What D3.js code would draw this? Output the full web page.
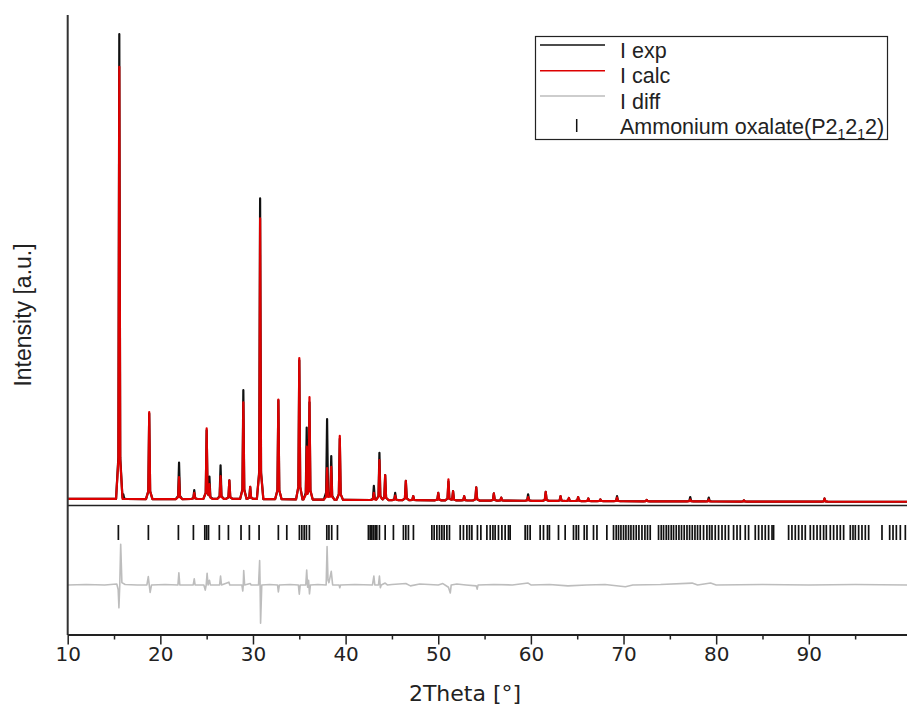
<!DOCTYPE html>
<html><head><meta charset="utf-8">
<script src="https://cdn.jsdelivr.net/npm/d3@7"></script>
<style>html,body{margin:0;padding:0;background:#fff;}svg{display:block;}</style>
</head><body>
<svg id="chart" width="907" height="708"></svg>
<script>
// ---------- data ----------
const xTicks = [10, 20, 30, 40, 50, 60, 70, 80, 90];
const xMinorTicks = [15, 25, 35, 45, 55, 65, 75, 85, 95];

// background level (a.u.)
const bgX = [10, 15, 20, 25, 30, 35, 40, 45, 50, 55, 60, 70, 80, 90, 100.6];
const bgVal = [1.3, 1.3, 1.25, 1.3, 1.3, 1.2, 1.1, 1.05, 1.0, 0.95, 0.9, 0.8, 0.75, 0.72, 0.7];

// reflections seen in the measured / calculated patterns
const peakPos  = [15.57, 16.0, 18.8, 22.02, 23.66, 25.0, 25.3, 26.5, 27.45, 28.96, 29.7, 30.77, 32.74, 35.0, 35.8, 36.1, 38.0, 38.45, 39.37, 43.05, 43.65, 44.27, 45.35, 46.5, 47.3, 50.0, 51.1, 51.6, 52.8, 54.1, 56.0, 56.8, 59.7, 61.6, 63.2, 64.1, 65.1, 66.2, 67.5, 69.3, 72.5, 77.2, 79.2, 83.0, 91.7];
const expPeak  = [100.9, 2.3, 19.6, 9.1, 3.2, 16.0, 6.1, 8.5, 5.3, 24.6, 3.9, 65.7, 22.4, 31.0, 16.6, 22.0, 18.4, 10.5, 14.2, 4.1, 11.2, 6.4, 2.6, 5.2, 1.9, 2.6, 5.0, 3.0, 1.9, 3.8, 2.5, 1.6, 2.3, 2.8, 1.9, 1.5, 1.7, 1.4, 1.2, 1.9, 1.1, 1.7, 1.6, 1.0, 1.4];
const calcPeak = [93.9, 1.3, 19.9, 6.0, 2.6, 16.4, 4.5, 6.2, 5.3, 22.0, 3.9, 61.4, 22.6, 31.5, 12.5, 23.1, 7.9, 8.2, 14.8, 2.6, 9.6, 6.4, 2.0, 5.2, 1.9, 2.6, 5.5, 3.0, 1.9, 3.8, 2.5, 1.6, 1.7, 2.8, 1.9, 1.5, 1.7, 1.4, 1.2, 1.6, 1.1, 1.2, 1.2, 1.0, 1.4];

// difference curve (2θ, Iexp - Icalc)
const diffX = [10, 12, 14, 15.3, 15.45, 15.53, 15.62, 15.72, 15.85, 16.2, 17.5, 18.55, 18.7, 18.8, 18.9, 19.05, 20.5, 21.9, 22.0, 22.1, 23.55, 23.66, 23.75, 24.7, 24.85, 24.95, 25.05, 25.15, 25.3, 25.4, 26.4, 26.5, 26.6, 27.4, 27.5, 28.8, 28.9, 28.95, 29.0, 29.1, 29.7, 29.8, 30.6, 30.72, 30.77, 30.82, 30.95, 31.8, 32.65, 32.74, 32.85, 34.0, 34.9, 35.0, 35.1, 35.7, 35.8, 35.9, 36.0, 36.1, 36.2, 37.0, 37.9, 38.0, 38.1, 38.2, 38.45, 38.6, 39.3, 39.37, 39.45, 41.0, 42.9, 43.05, 43.15, 43.55, 43.65, 43.75, 43.85, 44.27, 44.5, 45.0, 46.5, 47.0, 48.0, 50.0, 50.5, 51.1, 51.3, 51.4, 52.0, 53.0, 54.1, 54.2, 54.3, 56.0, 58.0, 59.7, 60.0, 62.0, 64.0, 66.0, 68.0, 70.2, 71.0, 74.0, 77.4, 78.0, 79.4, 80.0, 85.0, 90.0, 95.0, 100.6];
const diffV = [0, 0.1, 0, 0.2, -1.0, -4.9, 0, 8.7, 0.5, 0.1, 0, 0, 1.8, 0, -1.6, 0, 0.1, 0, 2.6, 0, 0, 1.3, 0, 0, -1.1, 0, 2.5, 0, 1.0, 0, 0, 1.9, 0, 0.6, 0, 0, -1.3, 0, 3.1, 0, 0.3, 0, 0, 5.2, 0, -8.2, 0, 0.1, 0, -1.5, 0, 0.1, 0, -2.0, 0, 0, 3.2, -0.5, 1.0, -1.9, 0, 0.1, 0, 8.2, 1.0, 0.5, 2.9, 0, 0, -0.6, 0, 0.1, 0, 1.9, 0, 0, 1.9, -0.6, 0, 0.4, 0, 0.1, 0.3, -0.2, 0.2, 0, 0.3, -0.5, -1.7, 0, 0.2, 0, -0.2, -0.9, 0, 0.1, 0, 0.4, 0, 0.1, -0.2, 0, 0.1, -0.4, 0, 0.1, 0.4, 0, 0.4, 0, 0.1, 0, 0.1, 0];

// calculated Bragg positions, Ammonium oxalate (P2₁2₁2)
const braggPos = [15.47, 18.71, 21.95, 23.57, 24.8, 25.0, 25.2, 26.37, 27.35, 28.71, 29.61, 30.66, 32.74, 33.65, 35.01, 35.27, 35.53, 35.77, 36.09, 37.97, 38.2, 38.5, 39.12,
  42.46, 42.65, 42.83, 43.0, 43.19, 43.37, 43.65, 44.27, 45.16, 46.24, 46.5, 46.78, 47.32, 49.31, 49.56, 49.85, 50.13, 50.39, 50.64, 50.93, 51.21,
  52.37, 52.72, 53.09, 53.37, 53.63, 54.23, 54.6, 55.25, 55.61, 55.9, 56.14, 56.5, 56.87, 57.22, 57.58, 57.76, 59.38, 59.63, 59.92, 61.0, 61.36, 61.79, 62.0,
  62.98, 63.7, 64.6, 64.89, 65.14, 65.76, 66.05, 66.76, 67.13, 68.2, 68.92, 69.21, 69.46, 69.72, 70.0, 70.26, 70.54, 70.8, 71.08, 71.37, 71.66, 71.99, 72.31,
  72.59, 72.88, 73.78, 74.07, 74.32, 74.61, 74.86, 75.15, 75.4, 75.69, 75.98, 76.26, 76.55, 76.85, 77.13, 77.42, 77.71, 77.99, 78.28, 78.64, 79.0, 79.29,
  79.55, 79.9, 80.26, 80.63, 80.98, 81.34, 81.88, 82.25, 82.6, 83.14, 83.5, 84.22, 84.58, 84.95, 85.3, 85.66, 86.03, 86.2, 87.82, 88.18, 88.54, 88.9,
  89.27, 89.62, 90.16, 90.52, 90.89, 91.24, 91.6, 91.89, 92.32, 92.68, 93.05, 93.4, 93.76, 94.48, 94.77, 95.02, 95.38, 95.74, 96.1, 96.46, 97.9, 98.73,
  99.09, 99.45, 99.88, 100.42];

const legendLabels = ["I exp", "I calc", "I diff"];

// ---------- drawing ----------
const svg = d3.select("#chart");
const x = d3.scaleLinear().domain([10, 100.6]).range([67.7, 907]);
const yTop = d3.scaleLinear().domain([0, 105]).range([505, 15]);
const yDiff = d3.scaleLinear().domain([-10.5, 16.9]).range([634, 506]);
const bg = d3.scaleLinear().domain(bgX).range(bgVal);
// peak glyph shape (offset in 2θ -> fraction of peak height)
const glyph = d3.scaleLinear().domain([-0.35, -0.1, 0, 0.1, 0.35]).range([0, 0.09, 1, 0.09, 0]).clamp(true);

function profile(heights) {
  const xs = new Set(bgX);
  peakPos.forEach(p => glyph.domain().forEach(o => xs.add(+(p + o).toFixed(3))));
  return Array.from(xs).filter(v => v >= 10 && v <= 100.6).sort((a, b) => a - b).map(v => {
    let add = 0;
    peakPos.forEach((p, i) => {
      const amp = heights[i] - bg(p);
      if (amp > 0) add = Math.max(add, glyph(v - p) * amp);
    });
    return [v, bg(v) + add];
  });
}

svg.append("defs").append("clipPath").attr("id", "clip")
  .append("rect").attr("x", 67.7).attr("y", 0).attr("width", 907 - 67.7).attr("height", 634);

const lineTop = d3.line().x(d => x(d[0])).y(d => yTop(d[1]));
const g = svg.append("g").attr("clip-path", "url(#clip)");
g.append("path").datum(profile(expPeak)).attr("d", lineTop)
  .attr("fill", "none").attr("stroke", "#111").attr("stroke-width", 2.2).attr("stroke-linejoin", "round");
g.append("path").datum(profile(calcPeak)).attr("d", lineTop)
  .attr("fill", "none").attr("stroke", "#dd0000").attr("stroke-width", 2.2).attr("stroke-linejoin", "round");

// Bragg markers
g.selectAll("line.bragg").data(braggPos).join("line").attr("class", "bragg")
  .attr("x1", d => x(d)).attr("x2", d => x(d)).attr("y1", 525).attr("y2", 540)
  .attr("stroke", "#111").attr("stroke-width", 1.7);

// difference
const lineDiff = d3.line().x((d, i) => x(diffX[i])).y(d => yDiff(d));
g.append("path").datum(diffV).attr("d", lineDiff)
  .attr("fill", "none").attr("stroke", "#bdbdbd").attr("stroke-width", 1.6).attr("stroke-linejoin", "round");

// separator line between panels
svg.append("line").attr("x1", 67.7).attr("x2", 907).attr("y1", 505.5).attr("y2", 505.5)
  .attr("stroke", "#222").attr("stroke-width", 1.5);
// left spine
svg.append("line").attr("x1", 67.7).attr("x2", 67.7).attr("y1", 15).attr("y2", 635)
  .attr("stroke", "#333").attr("stroke-width", 2);

// x axis
const ax = svg.append("g").attr("transform", "translate(0,634.5)")
  .call(d3.axisBottom(x).tickValues(xTicks).tickSize(10).tickSizeOuter(0).tickFormat(d3.format("d")));
ax.select(".domain").attr("stroke", "#222").attr("stroke-width", 2);
ax.selectAll(".tick line").attr("stroke", "#222").attr("stroke-width", 1.5);
ax.selectAll(".tick text").attr("font-family", "DejaVu Sans").attr("font-size", 20).attr("fill", "#222").attr("y", 12);
const axm = svg.append("g").attr("transform", "translate(0,634.5)")
  .call(d3.axisBottom(x).tickValues(xMinorTicks).tickSize(5).tickSizeOuter(0).tickFormat(""));
axm.select(".domain").remove();
axm.selectAll(".tick line").attr("stroke", "#222").attr("stroke-width", 1.5);

svg.append("text").attr("x", 465).attr("y", 701).attr("text-anchor", "middle")
  .attr("font-family", "DejaVu Sans").attr("font-size", 22).attr("fill", "#222").text("2Theta [°]");
svg.append("text").attr("transform", "translate(23,315) rotate(-90)").attr("text-anchor", "middle")
  .attr("dy", "0.35em").attr("font-family", "Liberation Sans, Arial").attr("font-size", 23).attr("fill", "#222")
  .text("Intensity [a.u.]");

// legend
const lg = svg.append("g");
lg.append("rect").attr("x", 535.5).attr("y", 36.5).attr("width", 352).attr("height", 103)
  .attr("fill", "#fff").attr("stroke", "#222").attr("stroke-width", 1.2);
const legendColors = ["#111", "#dd0000", "#bdbdbd"];
const rowLineY = [45, 70.7, 96];
const rowBase = [57.5, 83, 108.5, 133.5];
legendLabels.forEach((t, i) => {
  lg.append("line").attr("x1", 540).attr("x2", 605).attr("y1", rowLineY[i]).attr("y2", rowLineY[i])
    .attr("stroke", legendColors[i]).attr("stroke-width", 1.5);
  lg.append("text").attr("x", 620).attr("y", rowBase[i]).attr("font-family", "Liberation Sans, Arial")
    .attr("font-size", 21.5).attr("fill", "#222").text(t);
});
lg.append("line").attr("x1", 576.7).attr("x2", 576.7).attr("y1", 119).attr("y2", 132)
  .attr("stroke", "#111").attr("stroke-width", 1.5);
const at = lg.append("text").attr("x", 620).attr("y", rowBase[3]).attr("font-family", "Liberation Sans, Arial")
  .attr("font-size", 21.5).attr("fill", "#222");
at.append("tspan").text("Ammonium oxalate(P2");
at.append("tspan").attr("font-size", 14).attr("dy", 5).text("1");
at.append("tspan").attr("dy", -5).text("2");
at.append("tspan").attr("font-size", 14).attr("dy", 5).text("1");
at.append("tspan").attr("dy", -5).text("2)");
</script>
</body></html>
